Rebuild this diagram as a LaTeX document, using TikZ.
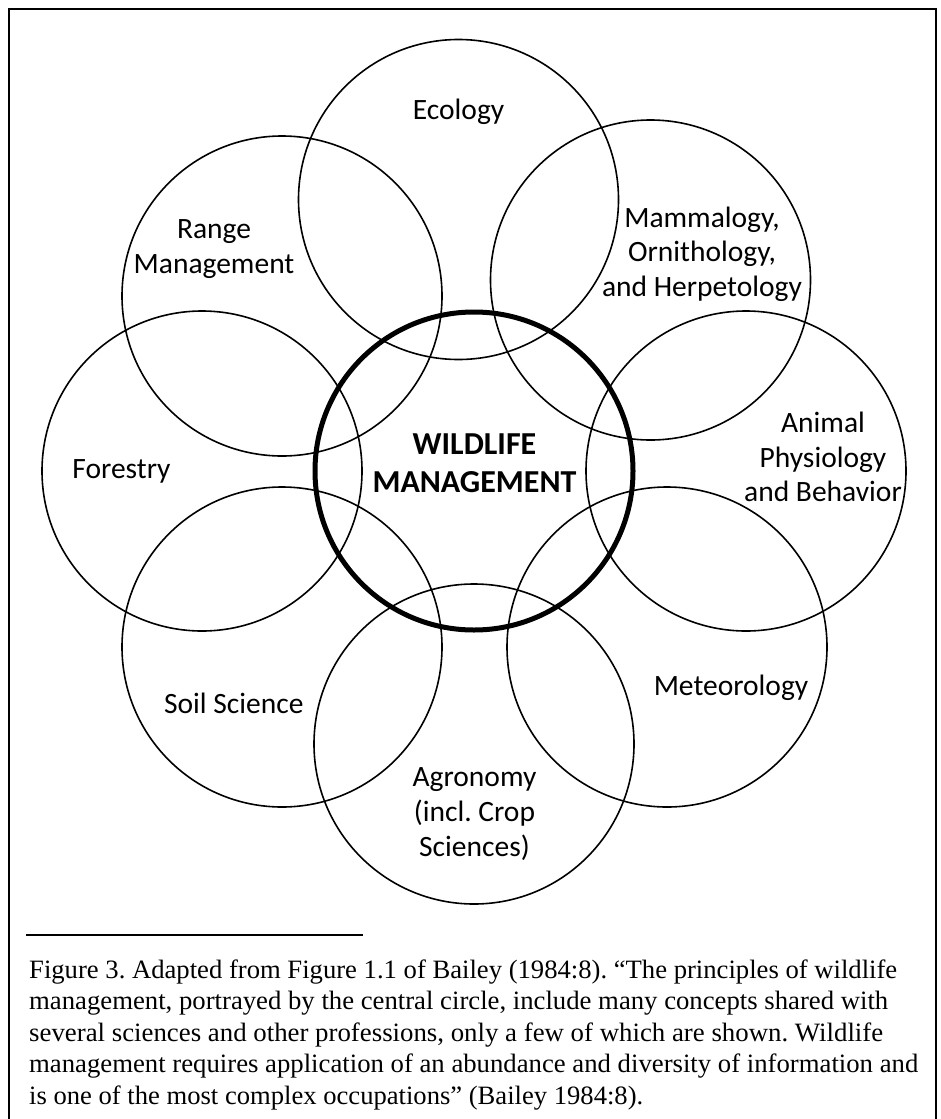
\documentclass[tikz,border=0pt]{standalone}
\usepackage{graphicx}
\usepackage{fontspec}
\setmainfont{Liberation Serif}
\newfontfamily\lblfont{Carlito}
\frenchspacing
\newcommand{\capfit}[2]{\resizebox{#1}{\height}{#2}}
\begin{document}
\begin{tikzpicture}[x=1pt,y=-1pt,
  ring/.style={circle,draw,line width=1.6pt,minimum size=320pt,inner sep=0pt,outer sep=0pt},
  corering/.style={circle,draw,line width=5pt,minimum size=318pt,inner sep=0pt,outer sep=0pt},
  lbl/.style={align=center,inner sep=0pt,font=\lblfont\fontsize{29.5}{34.6}\selectfont},
  corelbl/.style={align=center,inner sep=0pt,font=\lblfont\bfseries\fontsize{32}{38.5}\selectfont},
  captionline/.style={anchor=base west,inner sep=0pt,font=\frenchspacing\fontsize{26.5}{31.5}\selectfont}]
\useasboundingbox (0,0) rectangle (940,1119);
% frame (bottom edge lies beyond the page)
\coordinate (fbl) at (9,1119);
\coordinate (ftl) at (9,9);
\coordinate (ftr) at (936,9);
\coordinate (fbr) at (936,1119);
\draw[line width=2pt] (fbl) -- (ftl) -- (ftr) -- (fbr);
% outer circles
\node[ring] (eco) at (458.5,199.5) {};
\node[ring] (range) at (282,296) {};
\node[ring] (mamm) at (650.5,280) {};
\node[ring] (forest) at (202,471) {};
\node[ring] (animal) at (746,471) {};
\node[ring] (soil) at (282,647) {};
\node[ring] (agro) at (474,744) {};
\node[ring] (meteo) at (667,647) {};
% central circle
\node[corering] (core) at (474,471) {};
% labels
\node[lbl] (ecoT) at (458.6,112) {Ecology};
\node[lbl] (rangeT) at (214,249) {Range\\Management};
\node[lbl] (mammT) at (702,254) {Mammalogy,\\Ornithology,\\and Herpetology};
\node[lbl] (forestT) at (121.5,471) {Forestry};
\node[lbl] (animalT) at (823,457) {Animal\\Physiology\\and Behavior};
\node[lbl] (soilT) at (233.8,703) {Soil Science};
\node[lbl] (meteoT) at (731,688) {Meteorology};
\node[lbl] (agroT) at (474.5,814) {Agronomy\\(incl. Crop\\Sciences)};
\node[corelbl] (coreT) at (474.5,463) {WILDLIFE\\MANAGEMENT};
% caption rule
\coordinate (ruleA) at (26,935);
\coordinate (ruleB) at (363,935);
\draw[line width=2pt] (ruleA) -- (ruleB);
% caption
\node[captionline] (cap1) at (29,978) {\capfit{868pt}{Figure 3. Adapted from Figure 1.1 of Bailey (1984:8). “The principles of wildlife}};
\node[captionline] (cap2) at (29,1009.5) {\capfit{859pt}{management, portrayed by the central circle, include many concepts shared with}};
\node[captionline] (cap3) at (29,1041) {\capfit{854pt}{several sciences and other professions, only a few of which are shown. Wildlife}};
\node[captionline] (cap4) at (29,1072.5) {\capfit{889pt}{management requires application of an abundance and diversity of information and}};
\node[captionline] (cap5) at (29,1104) {\capfit{614pt}{is one of the most complex occupations” (Bailey 1984:8).}};
\end{tikzpicture}
\end{document}
